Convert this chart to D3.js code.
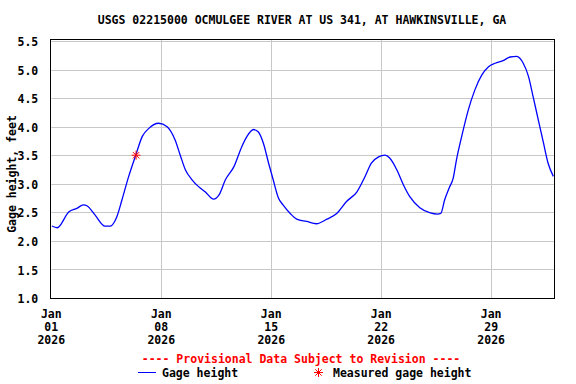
<!DOCTYPE html>
<html>
<head>
<meta charset="utf-8">
<script src="https://cdn.jsdelivr.net/npm/d3@7"></script>
<style>
  body { margin: 0; background: #fff; }
  text { font-family: "DejaVu Sans Mono", monospace; font-weight: bold; }
</style>
</head>
<body>
<script>
// gage height readings
var times = [
  "2026-01-01 01:00", "2026-01-01 09:00", "2026-01-02 03:00", "2026-01-02 15:00",
  "2026-01-03 01:00", "2026-01-03 07:00", "2026-01-03 19:00", "2026-01-04 10:00",
  "2026-01-04 18:00", "2026-01-05 04:00", "2026-01-05 12:00", "2026-01-05 22:00",
  "2026-01-06 09:00", "2026-01-06 19:00", "2026-01-07 05:00", "2026-01-07 20:00",
  "2026-01-08 09:00", "2026-01-08 21:00", "2026-01-09 05:00", "2026-01-09 13:00",
  "2026-01-09 23:00", "2026-01-10 09:00", "2026-01-10 19:00", "2026-01-11 08:00",
  "2026-01-11 16:00", "2026-01-12 02:00", "2026-01-12 15:00", "2026-01-13 03:00",
  "2026-01-13 11:00", "2026-01-13 21:00", "2026-01-14 04:00", "2026-01-14 12:00",
  "2026-01-14 20:00", "2026-01-15 03:00", "2026-01-15 11:00", "2026-01-15 18:00",
  "2026-01-16 05:00", "2026-01-16 15:00", "2026-01-17 06:00", "2026-01-17 21:00",
  "2026-01-18 13:00", "2026-01-19 04:00", "2026-01-19 19:00", "2026-01-20 11:00",
  "2026-01-20 23:00", "2026-01-21 09:00", "2026-01-21 20:00", "2026-01-22 06:00",
  "2026-01-22 13:00", "2026-01-23 00:00", "2026-01-23 10:00", "2026-01-23 20:00",
  "2026-01-24 11:00", "2026-01-25 03:00", "2026-01-25 14:00", "2026-01-25 19:00",
  "2026-01-26 01:00", "2026-01-26 08:00", "2026-01-26 14:00", "2026-01-26 19:00",
  "2026-01-27 03:00", "2026-01-27 13:00", "2026-01-27 23:00", "2026-01-28 10:00",
  "2026-01-28 20:00", "2026-01-29 06:00", "2026-01-29 19:00", "2026-01-30 05:00",
  "2026-01-30 15:00", "2026-01-31 01:00", "2026-01-31 09:00", "2026-01-31 16:00",
  "2026-02-01 00:00", "2026-02-01 08:00", "2026-02-01 15:00", "2026-02-01 23:00"
];
var gage = [
  2.26, 2.23, 2.51, 2.57,
  2.63, 2.61, 2.45, 2.26,
  2.26, 2.42, 2.72, 3.12,
  3.50, 3.83, 3.97, 4.06,
  4.00, 3.77, 3.50, 3.24,
  3.07, 2.95, 2.86, 2.73,
  2.80, 3.07, 3.30, 3.65,
  3.83, 3.95, 3.91, 3.71,
  3.36, 3.07, 2.75, 2.63,
  2.48, 2.38, 2.34, 2.30,
  2.38, 2.48, 2.69, 2.86,
  3.12, 3.36, 3.47, 3.50,
  3.45, 3.24, 2.98, 2.77,
  2.58, 2.49, 2.47, 2.48,
  2.72, 2.93, 3.10, 3.42,
  3.83, 4.29, 4.64, 4.91,
  5.05, 5.11, 5.16, 5.22,
  5.23, 5.11, 4.88, 4.53,
  4.12, 3.71, 3.36, 3.13
];
var measuredTimes = ["2026-01-06 09:30"];
var measuredGage = [3.50];

var yTicks = [1.0, 1.5, 2.0, 2.5, 3.0, 3.5, 4.0, 4.5, 5.0, 5.5];
var xTicks = ["2026-01-01", "2026-01-08", "2026-01-15", "2026-01-22", "2026-01-29"];

var title = "USGS 02215000 OCMULGEE RIVER AT US 341, AT HAWKINSVILLE, GA";

var W = 576, H = 384;
var pLeft = 51.3, pRight = 554, pTop = 41, pBottom = 298;

var parseT = d3.timeParse("%Y-%m-%d %H:%M");
var parseD = d3.timeParse("%Y-%m-%d");

var data = times.map(function (t, i) { return {t: parseT(t), v: gage[i]}; });
var meas = measuredTimes.map(function (t, i) { return {t: parseT(t), v: measuredGage[i]}; });

var x = d3.scaleTime()
  .domain([parseD("2026-01-01"), parseD("2026-02-02")])
  .range([pLeft, pRight]);
var y = d3.scaleLinear().domain([1.0, 5.5]).range([pBottom, pTop]);

var svg = d3.select("body").append("svg")
  .attr("width", W)
  .attr("height", H);

// grid
svg.append("g")
  .selectAll("line")
  .data(yTicks.slice(1))
  .join("line")
  .attr("x1", pLeft).attr("x2", pRight)
  .attr("y1", function (d) { return Math.round(y(d)) + 0.5; })
  .attr("y2", function (d) { return Math.round(y(d)) + 0.5; })
  .attr("stroke", "#c8c8c8");

svg.append("g")
  .selectAll("line")
  .data(xTicks.slice(1).map(parseD))
  .join("line")
  .attr("x1", function (d) { return Math.round(x(d)) + 0.5; })
  .attr("x2", function (d) { return Math.round(x(d)) + 0.5; })
  .attr("y1", pTop - 1).attr("y2", pBottom)
  .attr("stroke", "#c8c8c8");

// y axis labels
var yAxis = d3.axisLeft(y)
  .tickValues(yTicks)
  .tickFormat(d3.format(".1f"))
  .tickSize(0)
  .tickPadding(13);
var gy = svg.append("g")
  .attr("transform", "translate(" + pLeft + ",0)")
  .call(yAxis);
gy.select(".domain").remove();
gy.selectAll("text")
  .attr("font-size", "11.5px")
  .attr("font-family", "DejaVu Sans Mono, monospace")
  .attr("font-weight", "bold")
  .attr("fill", "#000")
  .attr("dy", "0.4em");

// x axis labels (3 lines)
var fmtMon = d3.timeFormat("%b"), fmtDay = d3.timeFormat("%d"), fmtYr = d3.timeFormat("%Y");
var xl = svg.append("g")
  .selectAll("text")
  .data(xTicks.map(parseD))
  .join("text")
  .attr("text-anchor", "middle")
  .attr("font-size", "11.5px")
  .attr("fill", "#000");
xl.append("tspan").attr("x", function (d) { return x(d); }).attr("y", 318).text(fmtMon);
xl.append("tspan").attr("x", function (d) { return x(d); }).attr("y", 331).text(fmtDay);
xl.append("tspan").attr("x", function (d) { return x(d); }).attr("y", 344).text(fmtYr);

// line
var line = d3.line()
  .x(function (d) { return x(d.t); })
  .y(function (d) { return y(d.v); })
  .curve(d3.curveMonotoneX);

svg.append("path")
  .datum(data)
  .attr("d", line)
  .attr("fill", "none")
  .attr("stroke", "#0000ff")
  .attr("stroke-width", 1.3);

// measured point (asterisk)
function star(g, cx, cy, r) {
  for (var k = 0; k < 4; k++) {
    var a = k * Math.PI / 4;
    g.append("line")
      .attr("x1", cx - r * Math.cos(a)).attr("y1", cy - r * Math.sin(a))
      .attr("x2", cx + r * Math.cos(a)).attr("y2", cy + r * Math.sin(a))
      .attr("stroke", "#ff0000").attr("stroke-width", 1);
  }
}
var mg = svg.append("g");
meas.forEach(function (d) { star(mg, x(d.t), y(d.v), 4.5); });

// frame
svg.append("rect")
  .attr("x", Math.round(pLeft) - 0.5).attr("y", pTop - 1.5)
  .attr("width", Math.round(pRight) - Math.round(pLeft) + 1)
  .attr("height", pBottom - pTop + 2)
  .attr("fill", "none")
  .attr("stroke", "#000");

// titles
svg.append("text")
  .attr("x", 302).attr("y", 24)
  .attr("text-anchor", "middle")
  .attr("font-size", "11.5px")
  .text(title);

svg.append("text")
  .attr("transform", "translate(16,174)rotate(-90)")
  .attr("text-anchor", "middle")
  .attr("font-size", "11.5px")
  .text("Gage height, feet");

svg.append("text")
  .attr("x", 301).attr("y", 363)
  .attr("text-anchor", "middle")
  .attr("font-size", "11.5px")
  .attr("fill", "#ff0000")
  .text("---- Provisional Data Subject to Revision ----");

// legend
svg.append("line")
  .attr("x1", 138).attr("x2", 156)
  .attr("y1", 372.5).attr("y2", 372.5)
  .attr("stroke", "#0000ff");
svg.append("text")
  .attr("x", 162).attr("y", 377)
  .attr("font-size", "11.5px")
  .text("Gage height");
star(svg, 318.5, 372.5, 4.5);
svg.append("text")
  .attr("x", 333).attr("y", 377)
  .attr("font-size", "11.5px")
  .text("Measured gage height");
</script>
</body>
</html>
